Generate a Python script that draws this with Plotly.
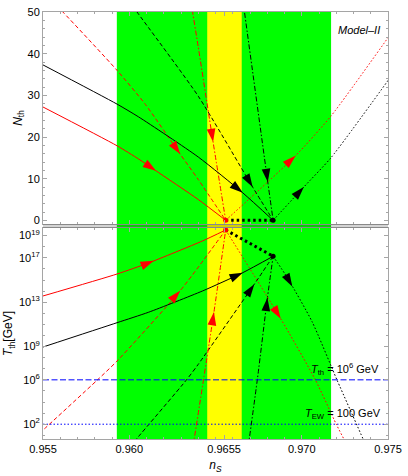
import numpy as np
import plotly.graph_objects as go

# ---------------- data ----------------
ns_range = [0.955, 0.975]
green_band = [0.95928, 0.97170]
yellow_band = [0.96452, 0.96652]

x_tick_vals = [0.955, 0.960, 0.9655, 0.970, 0.975]
x_tick_text = ["0.955", "0.960", "0.9655", "0.970", "0.975"]
n_tick_vals = [0, 10, 20, 30, 40, 50]
t_tick_exp = [2, 6, 9, 13, 17, 19]

# end points (red = first, black = second)
red_end_ns = 0.96559
black_end_ns = 0.96834
red_end_logT = 19.51
black_end_logT = 17.14

# ---- top panel: N_th vs n_S ----
top_black_solid_x = [0.955, 0.95929, 0.96055, 0.9640, 0.96658, 0.96834]
top_black_solid_N = [37.3, 27.9, 24.8, 15.2, 6.6, 0.0]
top_red_solid_x = [0.955, 0.95929, 0.96055, 0.96151, 0.9640, 0.96559]
top_red_solid_N = [27.2, 17.9, 14.7, 12.0, 5.0, 0.0]
top_red_dash_x = [0.9553, 0.95615, 0.95929, 0.96094, 0.96295, 0.9640, 0.96559]
top_red_dash_N = [53.5, 50.0, 36.0, 27.8, 15.9, 9.8, 0.0]
top_red_dashdot_x = [0.96355, 0.96367, 0.9640, 0.96486, 0.96559]
top_red_dashdot_N = [53.0, 50.0, 41.6, 18.8, 0.0]
top_black_dash_x = [0.9600, 0.96045, 0.9640, 0.96715, 0.96834]
top_black_dash_N = [52.6, 50.0, 29.8, 8.0, 0.0]
top_black_dashdot_x = [0.96661, 0.96668, 0.96803, 0.96834]
top_black_dashdot_N = [52.2, 50.0, 9.2, 0.0]
top_red_dot_x = [0.96559, 0.96964, 0.97169, 0.9752]
top_red_dot_N = [0.0, 15.5, 25.0, 45.0]
top_black_dot_x = [0.96834, 0.97012, 0.97169, 0.9752]
top_black_dot_N = [0.0, 8.0, 15.0, 34.7]

# arrow positions (n_S) on the top-panel curves
top_arrow_ns = {
    "black_solid": 0.96658, "red_solid": 0.96155, "red_dash": 0.96295,
    "red_dashdot": 0.96486, "black_dash": 0.96715, "black_dashdot": 0.96803,
    "red_dot": 0.96964, "black_dot": 0.97012,
}

# ---- bottom panel: log10(T_th / GeV) vs n_S ----
bot_red_solid_x = [0.955, 0.95929, 0.96114, 0.96423, 0.96559]
bot_red_solid_logT = [13.56, 15.54, 16.55, 18.51, 19.51]
bot_black_solid_x = [0.955, 0.95929, 0.96113, 0.96423, 0.96658, 0.96834]
bot_black_solid_logT = [8.96, 11.15, 12.1, 14.0, 15.66, 17.14]
bot_red_dash_x = [0.9548, 0.955, 0.95816, 0.95929, 0.96295, 0.96559]
bot_red_dash_logT = [1.2, 1.47, 6.0, 7.69, 14.03, 19.51]
bot_red_dashdot_x = [0.96370, 0.96491, 0.96559]
bot_red_dashdot_logT = [0.0, 12.11, 19.51]
bot_black_dash_x = [0.96005, 0.96045, 0.96332, 0.9640, 0.96725, 0.96834]
bot_black_dash_logT = [0.0, 0.73, 6.0, 7.40, 14.62, 17.14]
bot_black_dashdot_x = [0.96690, 0.96744, 0.96801, 0.96834]
bot_black_dashdot_logT = [0.0, 6.2, 13.4, 17.14]
bot_red_dot_x = [0.96559, 0.96878, 0.97079, 0.97200, 0.97243, 0.9727]
bot_red_dot_logT = [19.51, 11.51, 6.0, 2.0, 0.7, -0.1]
bot_black_dot_x = [0.96834, 0.96916, 0.97060, 0.97204, 0.97356, 0.9738]
bot_black_dot_logT = [17.14, 15.22, 11.24, 6.0, 0.65, -0.2]

bot_arrow_ns = {
    "red_solid": 0.96142, "black_solid": 0.96658, "red_dash": 0.96295,
    "red_dashdot": 0.96491, "black_dash": 0.96725, "black_dashdot": 0.96801,
    "red_dot": 0.96878, "black_dot": 0.96945,
}

T_th_line_exp = 6   # T_th = 10^6 GeV
T_EW_GeV = 100      # T_EW = 100 GeV

# ---------------- styling ----------------
RED = "rgb(255,0,0)"
BLACK = "rgb(0,0,0)"
BLUE = "rgb(0,0,255)"
FRAME = "rgb(165,165,165)"
DASH = "4px,2.5px"
DASHDOT = "5px,2px,1.5px,2px"
DOT = "1.6px,2px"
FONT = "Liberation Sans, Arial, Helvetica, sans-serif"

fig = go.Figure()

top_curves = [
    ("red_dash", top_red_dash_x, top_red_dash_N, RED, DASH),
    ("black_dash", top_black_dash_x, top_black_dash_N, BLACK, DASH),
    ("red_dashdot", top_red_dashdot_x, top_red_dashdot_N, RED, DASHDOT),
    ("black_dashdot", top_black_dashdot_x, top_black_dashdot_N, BLACK, DASHDOT),
    ("red_dot", top_red_dot_x, top_red_dot_N, RED, DOT),
    ("black_dot", top_black_dot_x, top_black_dot_N, BLACK, DOT),
    ("black_solid", top_black_solid_x, top_black_solid_N, BLACK, "solid"),
    ("red_solid", top_red_solid_x, top_red_solid_N, RED, "solid"),
]
bot_curves = [
    ("red_dash", bot_red_dash_x, bot_red_dash_logT, RED, DASH),
    ("black_dash", bot_black_dash_x, bot_black_dash_logT, BLACK, DASH),
    ("red_dashdot", bot_red_dashdot_x, bot_red_dashdot_logT, RED, DASHDOT),
    ("black_dashdot", bot_black_dashdot_x, bot_black_dashdot_logT, BLACK, DASHDOT),
    ("red_dot", bot_red_dot_x, bot_red_dot_logT, RED, DOT),
    ("black_dot", bot_black_dot_x, bot_black_dot_logT, BLACK, DOT),
    ("black_solid", bot_black_solid_x, bot_black_solid_logT, BLACK, "solid"),
    ("red_solid", bot_red_solid_x, bot_red_solid_logT, RED, "solid"),
]


def add_arrow(xs, ys, x_at, color, xa, ya, log):
    xs = np.asarray(xs, float)
    ys = np.asarray(ys, float)
    x0 = x_at - 0.00015
    y_at = np.interp(x_at, xs, ys)
    y0 = np.interp(x0, xs, ys)
    if log:
        y_at, y0 = 10 ** y_at, 10 ** y0
    fig.add_trace(go.Scatter(
        x=[x0, x_at], y=[y0, y_at], mode="markers", xaxis=xa, yaxis=ya,
        marker=dict(symbol="arrow", size=[0, 14], color=color, opacity=[0, 1],
                    angleref="previous", line=dict(width=0)),
        hoverinfo="skip"))


for name, xs, ys, color, dash in top_curves:
    fig.add_trace(go.Scatter(x=xs, y=ys, mode="lines", xaxis="x", yaxis="y",
                             line=dict(color=color, width=1, dash=dash, shape="spline", smoothing=0.6),
                             hoverinfo="skip"))
for name, xs, ys, color, dash in bot_curves:
    fig.add_trace(go.Scatter(x=xs, y=[10 ** v for v in ys], mode="lines", xaxis="x2", yaxis="y2",
                             line=dict(color=color, width=1, dash=dash, shape="spline", smoothing=0.6),
                             hoverinfo="skip"))

# horizontal reference lines in the bottom panel
fig.add_trace(go.Scatter(x=ns_range, y=[10 ** T_th_line_exp] * 2, mode="lines", xaxis="x2", yaxis="y2",
                         line=dict(color=BLUE, width=1, dash="6px,2.5px"), hoverinfo="skip"))
fig.add_trace(go.Scatter(x=ns_range, y=[T_EW_GeV] * 2, mode="lines", xaxis="x2", yaxis="y2",
                         line=dict(color=BLUE, width=1, dash="1.5px,2px"), hoverinfo="skip"))

# thick dotted connections between the two end points
fig.add_trace(go.Scatter(x=[red_end_ns, black_end_ns], y=[0, 0], mode="lines", xaxis="x", yaxis="y",
                         line=dict(color=BLACK, width=3, dash="2.5px,3px"), hoverinfo="skip"))
fig.add_trace(go.Scatter(x=[red_end_ns, black_end_ns], y=[10 ** red_end_logT, 10 ** black_end_logT],
                         mode="lines", xaxis="x2", yaxis="y2",
                         line=dict(color=BLACK, width=3, dash="2.5px,3px"), hoverinfo="skip"))

for name, xs, ys, color, dash in top_curves:
    add_arrow(xs, ys, top_arrow_ns[name], color, "x", "y", False)
for name, xs, ys, color, dash in bot_curves:
    add_arrow(xs, ys, bot_arrow_ns[name], color, "x2", "y2", True)

# end-point dots
fig.add_trace(go.Scatter(x=[red_end_ns, black_end_ns], y=[0, 0], mode="markers", xaxis="x", yaxis="y",
                         marker=dict(color=[RED, BLACK], size=5), hoverinfo="skip"))
fig.add_trace(go.Scatter(x=[red_end_ns, black_end_ns], y=[10 ** red_end_logT, 10 ** black_end_logT],
                         mode="markers", xaxis="x2", yaxis="y2",
                         marker=dict(color=[RED, BLACK], size=5), hoverinfo="skip"))

# bands
TOP_DOM = [0.5035, 1.0]
BOT_DOM = [0.0, 0.4942]
shapes = [
    dict(type="rect", xref="x", yref="paper", x0=green_band[0], x1=green_band[1], y0=0, y1=1,
         fillcolor="rgb(0,255,0)", line=dict(width=0), layer="below"),
    dict(type="rect", xref="x", yref="paper", x0=yellow_band[0], x1=yellow_band[1], y0=0, y1=1,
         fillcolor="rgb(255,255,0)", line=dict(width=0), layer="below"),
    dict(type="rect", xref="paper", yref="paper", x0=0, x1=1, y0=BOT_DOM[1], y1=TOP_DOM[0],
         fillcolor="rgba(0,0,0,0.17)", line=dict(width=0), layer="above"),
]

axis_common = dict(showline=True, linecolor=FRAME, linewidth=1, mirror="ticks", ticks="inside",
                   ticklen=4, tickcolor=FRAME, tickwidth=1, showgrid=False, zeroline=False,
                   tickfont=dict(family=FONT, size=11, color="black"))

minor_x = dict(ticks="inside", ticklen=2, tickcolor=FRAME, dtick=0.001, tick0=0.955, showgrid=False)

fig.update_layout(
    width=408, height=476,
    margin=dict(l=43, r=16, t=6, b=37),
    paper_bgcolor="white", plot_bgcolor="rgba(0,0,0,0)",
    showlegend=False,
    font=dict(family=FONT, size=11, color="black"),
    shapes=shapes,
    xaxis=dict(domain=[0, 1], anchor="y", range=ns_range, tickvals=x_tick_vals,
               showticklabels=False, minor=minor_x, **axis_common),
    yaxis=dict(domain=TOP_DOM, anchor="x", range=[-0.88, 50], tickvals=n_tick_vals,
               minor=dict(ticks="inside", ticklen=2, tickcolor=FRAME, dtick=2, showgrid=False),
               title=dict(text="<i>N</i><sub>th</sub>", font=dict(size=12), standoff=2),
               **axis_common),
    xaxis2=dict(domain=[0, 1], anchor="y2", range=ns_range, tickvals=x_tick_vals, ticktext=x_tick_text,
                minor=minor_x,
                title=dict(text="<i>n</i><sub><i>S</i></sub>", font=dict(size=12), standoff=6),
                **axis_common),
    yaxis2=dict(domain=BOT_DOM, anchor="x2", type="log", range=[0.667, 19.69],
                tickvals=[10 ** e for e in t_tick_exp],
                ticktext=["10<sup>%d</sup>" % e for e in t_tick_exp],
                minor=dict(ticks="inside", ticklen=2, tickcolor=FRAME,
                           tickvals=[10 ** e for e in range(1, 20)], showgrid=False),
                title=dict(text="<i>T</i><sub>th</sub>[GeV]", font=dict(size=12), standoff=3),
                **axis_common),
    annotations=[
        dict(text="<i>Model–II</i>", xref="x", yref="y", x=0.97467, y=45.8,
             xanchor="right", yanchor="middle", showarrow=False, font=dict(size=11)),
        dict(text="<i>T</i><sub>th</sub> = 10<sup>6</sup> GeV", xref="x2", yref="y2",
             x=0.97458, y=6.95, xanchor="right", yanchor="middle", showarrow=False, font=dict(size=11)),
        dict(text="<i>T</i><sub>EW</sub> = 100 GeV", xref="x2", yref="y2",
             x=0.97471, y=2.95, xanchor="right", yanchor="middle", showarrow=False, font=dict(size=11)),
    ],
)

fig.write_html("out.html", config={"displayModeBar": False},
               post_script="document.body.style.margin='0px';")
